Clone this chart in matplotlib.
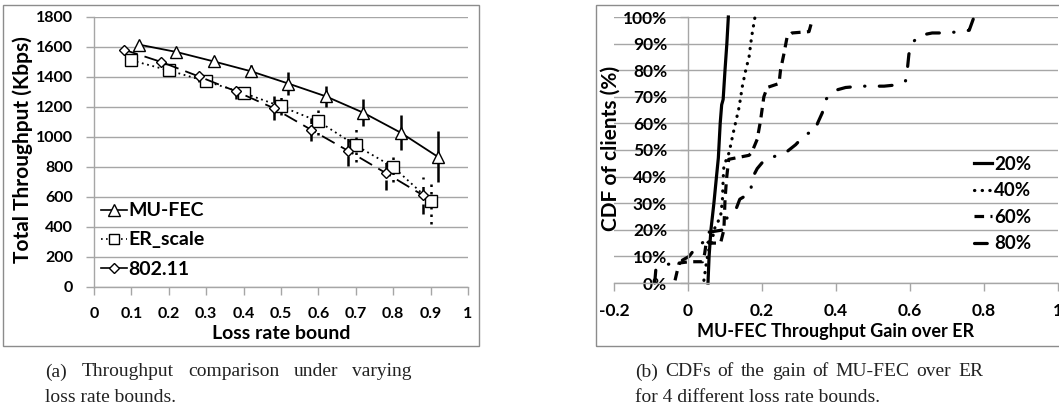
import matplotlib
matplotlib.use("Agg")
import matplotlib.pyplot as plt
from matplotlib.patches import Rectangle
from matplotlib.lines import Line2D

W, H = 1059, 412
FONT = "Lato"
GRID = "#a6a6a6"

# ---------------- data: panel (a) ----------------
mufec_x = [0.12, 0.22, 0.32, 0.42, 0.52, 0.62, 0.72, 0.82, 0.92]
mufec_y = [1616, 1567, 1504, 1438, 1356, 1271, 1162, 1029, 867]
mufec_err = [10, 15, 15, 39, 75, 68, 89, 117, 170]

er_x = [0.10, 0.20, 0.30, 0.40, 0.50, 0.60, 0.70, 0.80, 0.90]
er_y = [1511, 1444, 1371, 1293, 1204, 1104, 944, 800, 573]
er_err = [10, 15, 20, 25, 60, 89, 109, 100, 150]

wifi_x = [0.08, 0.18, 0.28, 0.38, 0.48, 0.58, 0.68, 0.78, 0.88]
wifi_y = [1582, 1500, 1404, 1304, 1193, 1049, 907, 760, 611]
wifi_err = [10, 15, 40, 50, 78, 75, 97, 112, 122]

a_xticks = [0, 0.1, 0.2, 0.3, 0.4, 0.5, 0.6, 0.7, 0.8, 0.9, 1]
a_xticklabels = ["0", "0.1", "0.2", "0.3", "0.4", "0.5", "0.6", "0.7", "0.8", "0.9", "1"]
a_yticks = [0, 200, 400, 600, 800, 1000, 1200, 1400, 1600, 1800]

# ---------------- data: panel (b) ----------------
c20_x = [0.054, 0.057, 0.062, 0.070, 0.077, 0.082, 0.087, 0.091, 0.095, 0.100, 0.105, 0.109]
c20_y = [0.00, 0.10, 0.20, 0.30, 0.40, 0.47, 0.60, 0.67, 0.69, 0.80, 0.90, 1.00]

c40_x = [0.043, 0.048, 0.055, 0.066, 0.070, 0.088, 0.093, 0.095, 0.097, 0.111,
         0.124, 0.138, 0.147, 0.156, 0.165, 0.172, 0.181]
c40_y = [0.01, 0.06, 0.12, 0.16, 0.20, 0.25, 0.31, 0.39, 0.44, 0.49,
         0.575, 0.66, 0.74, 0.80, 0.85, 0.926, 1.00]

c60_x = [-0.035, -0.030, -0.024, 0.003, 0.039, 0.045, 0.050, 0.057, 0.088, 0.097,
         0.100, 0.104, 0.110, 0.165, 0.172, 0.187, 0.196, 0.205, 0.214, 0.246,
         0.250, 0.259, 0.268, 0.281, 0.327, 0.336]
c60_y = [0.01, 0.04, 0.075, 0.08, 0.08, 0.11, 0.16, 0.15, 0.15, 0.20,
         0.31, 0.39, 0.465, 0.48, 0.49, 0.54, 0.61, 0.70, 0.735, 0.75,
         0.80, 0.86, 0.926, 0.94, 0.945, 0.99]

c80_x = [-0.090, -0.087, -0.056, -0.029, 0.003, 0.025, 0.050, 0.052, 0.097, 0.102,
         0.129, 0.140, 0.170, 0.172, 0.187, 0.205, 0.232, 0.264, 0.291, 0.318,
         0.343, 0.350, 0.363, 0.372, 0.400, 0.426, 0.467, 0.503, 0.530, 0.566,
         0.588, 0.593, 0.597, 0.605, 0.624, 0.660, 0.696, 0.728, 0.760, 0.773]
c80_y = [0.00, 0.05, 0.07, 0.075, 0.10, 0.14, 0.16, 0.19, 0.20, 0.24,
         0.275, 0.315, 0.34, 0.39, 0.43, 0.46, 0.475, 0.49, 0.52, 0.56,
         0.57, 0.60, 0.64, 0.69, 0.725, 0.735, 0.74, 0.74, 0.74, 0.745,
         0.76, 0.805, 0.86, 0.90, 0.93, 0.94, 0.94, 0.944, 0.95, 1.00]

b_xticks = [-0.2, 0, 0.2, 0.4, 0.6, 0.8, 1.0]
b_xticklabels = ["-0.2", "0", "0.2", "0.4", "0.6", "0.8", "1"]
b_yticks = [0, 0.1, 0.2, 0.3, 0.4, 0.5, 0.6, 0.7, 0.8, 0.9, 1.0]
b_yticklabels = ["0%", "10%", "20%", "30%", "40%", "50%", "60%", "70%", "80%", "90%", "100%"]

caption_a = ["(a) Throughput comparison under varying", "loss rate bounds."]
caption_b = ["(b) CDFs of the gain of MU-FEC over ER", "for 4 different loss rate bounds."]

# ---------------- figure ----------------
fig = plt.figure(figsize=(W / 100, H / 100), dpi=100)


def fx(x):
    return x / W


def fy(y):
    return 1 - y / H


def style_axes(ax, size):
    for s in ["top", "right"]:
        ax.spines[s].set_visible(False)
    for s in ["left", "bottom"]:
        ax.spines[s].set_color(GRID)
        ax.spines[s].set_linewidth(1.0)
    ax.tick_params(axis="both", which="major", direction="out", length=6,
                   width=1.0, color=GRID, labelsize=size)
    ax.tick_params(axis="x", pad=8.5)
    ax.tick_params(axis="y", pad=9)
    ax.yaxis.grid(True, color=GRID, linewidth=1.0)
    ax.set_axisbelow(True)
    for lab in ax.get_xticklabels() + ax.get_yticklabels():
        lab.set_fontweight("bold")
        lab.set_fontfamily(FONT)


# panel frames
fig.add_artist(Rectangle((fx(3), fy(346)), fx(476), (346 - 5) / H, transform=fig.transFigure,
                         fill=False, edgecolor="#8c8c8c", linewidth=1.0))
fig.add_artist(Rectangle((fx(596), fy(346)), fx(470), (346 - 5) / H, transform=fig.transFigure,
                         fill=False, edgecolor="#8c8c8c", linewidth=1.0))

# ---------------- panel (a) ----------------
ax1 = fig.add_axes([fx(94), fy(287), fx(468 - 94), (287 - 17) / H])
ax1.set_xlim(0, 1)
ax1.set_ylim(0, 1800)
ax1.set_xticks(a_xticks)
ax1.set_xticklabels(a_xticklabels)
ax1.set_yticks(a_yticks)
style_axes(ax1, 11.5)

e1 = ax1.errorbar(mufec_x, mufec_y, yerr=mufec_err, color="black", linestyle="-", linewidth=1.3,
                  marker="^", markersize=9, markerfacecolor="white", markeredgecolor="black",
                  markeredgewidth=1.0, ecolor="black", elinewidth=1.8, capsize=0, zorder=3)
e2 = ax1.errorbar(er_x, er_y, yerr=er_err, color="black", linestyle=(0, (1, 2)), linewidth=1.3,
                  marker="s", markersize=8, markerfacecolor="white", markeredgecolor="black",
                  markeredgewidth=1.0, ecolor="black", elinewidth=1.8, capsize=0, zorder=3)
e2[2][0].set_linestyle((0, (1, 2)))
e3 = ax1.errorbar(wifi_x, wifi_y, yerr=wifi_err, color="black", linestyle=(0, (8, 4)), linewidth=1.3,
                  marker="D", markersize=5.5, markerfacecolor="white", markeredgecolor="black",
                  markeredgewidth=1.0, ecolor="black", elinewidth=1.8, capsize=0, zorder=3)
e3[2][0].set_linestyle((0, (4, 3)))

h1 = Line2D([], [], color="black", linestyle="-", linewidth=1.2, marker="^", markersize=8,
            markerfacecolor="white", markeredgecolor="black")
h2 = Line2D([], [], color="black", linestyle=(0, (1, 2)), linewidth=1.2, marker="s", markersize=7,
            markerfacecolor="white", markeredgecolor="black")
h3 = Line2D([], [], color="black", linestyle="-", linewidth=1.2, marker="D", markersize=5,
            markerfacecolor="white", markeredgecolor="black")
leg1 = ax1.legend([h1, h2, h3], ["MU-FEC", "ER_scale", "802.11"], loc="center left",
                  bbox_to_anchor=(0.02, (287 - 240) / 270), frameon=False, handlelength=1.3,
                  handletextpad=0.1, labelspacing=0.62, borderaxespad=0.0, borderpad=0.0,
                  prop={"family": FONT, "weight": "bold", "size": 14})

ax1.set_xlabel("Loss rate bound", fontfamily=FONT, fontweight="bold", fontsize=14, labelpad=3)
fig.text(fx(23), fy(150), "Total Throughput (Kbps)", rotation=90, ha="center", va="center",
         fontfamily=FONT, fontweight="bold", fontsize=15)

# ---------------- panel (b) ----------------
ax2 = fig.add_axes([fx(614), fy(283), fx(1058 - 614), (283 - 17) / H])
ax2.set_xlim(-0.2, 1.0)
ax2.set_ylim(0, 1.0)
ax2.spines["left"].set_position(("data", 0))
ax2.set_xticks(b_xticks)
ax2.set_xticklabels(b_xticklabels)
ax2.set_yticks(b_yticks)
ax2.set_yticklabels(b_yticklabels)
style_axes(ax2, 12.5)

lw = 2.3
ax2.plot(c20_x, c20_y, color="black", linestyle="-", linewidth=lw, label="20%", clip_on=False)
ax2.plot(c40_x, c40_y, color="black", linestyle=(0, (0.1, 2.3)), linewidth=lw,
         dash_capstyle="round", label="40%", clip_on=False)
ax2.plot(c60_x, c60_y, color="black", linestyle=(0, (3, 2)), linewidth=lw, label="60%", clip_on=False)
ax2.plot(c80_x, c80_y, color="black", linestyle=(0, (4, 4.5, 0.1, 4.5)), linewidth=lw,
         dash_capstyle="round", label="80%", clip_on=False)

leg2 = ax2.legend(loc="center left", bbox_to_anchor=(0.81, (283 - 204) / 266), frameon=False,
                  handlelength=1.0, handletextpad=0.1, labelspacing=0.5,
                  borderaxespad=0.0, borderpad=0.0,
                  prop={"family": FONT, "weight": "bold", "size": 13.5})

ax2.set_xlabel("MU-FEC Throughput Gain over ER", fontfamily=FONT, fontweight="bold",
               fontsize=13, labelpad=3)
fig.text(fx(611), fy(148), "CDF of clients (%)", rotation=90, ha="center", va="center",
         fontfamily=FONT, fontweight="bold", fontsize=15)

# ---------------- captions ----------------
cap_kw = dict(fontfamily="Liberation Serif", fontsize=14, ha="left", va="center", color="#222222")
renderer = fig.canvas.get_renderer()


def justified(line, x0, x1, y):
    words = line.split()
    texts = [fig.text(0, fy(y), w, **cap_kw) for w in words]
    widths = [t.get_window_extent(renderer).width for t in texts]
    gap = (x1 - x0 - sum(widths)) / (len(words) - 1)
    x = x0
    for t, wd in zip(texts, widths):
        t.set_x(fx(x))
        x += wd + gap


justified(caption_a[0], 45, 412, 372)
fig.text(fx(45), fy(397), caption_a[1], **cap_kw)
justified(caption_b[0], 635, 983, 372)
fig.text(fx(635), fy(397), caption_b[1], **cap_kw)

fig.savefig("out.png", dpi=100)
